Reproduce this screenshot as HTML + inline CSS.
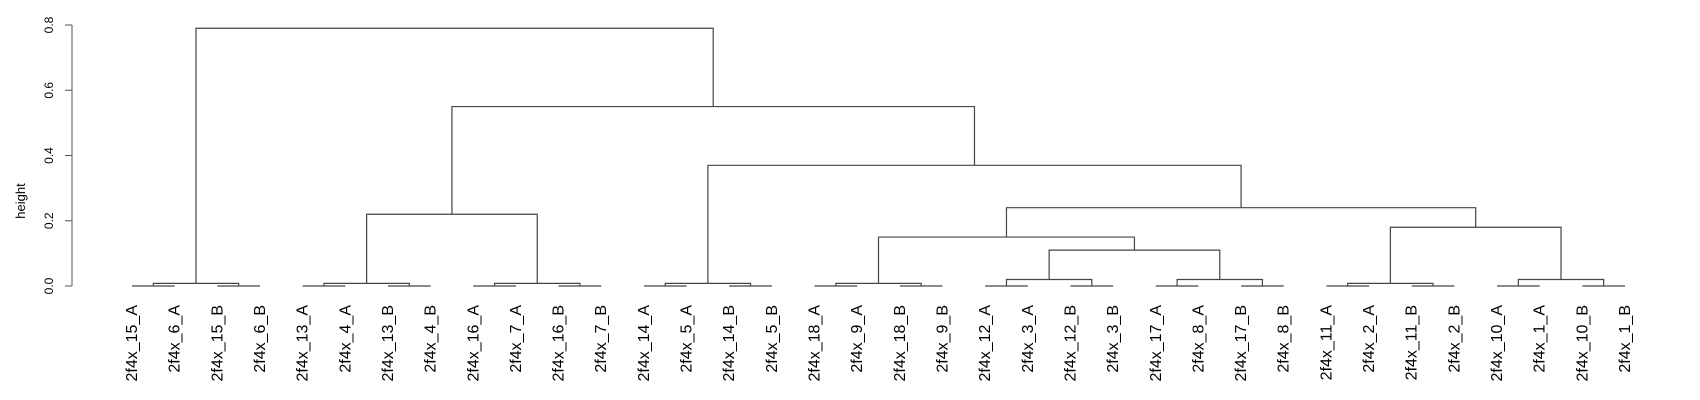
<!DOCTYPE html>
<html><head><meta charset="utf-8"><style>
body{margin:0;background:#fff}
svg{display:block;font-family:"Liberation Sans",Arial,sans-serif}
</style></head><body>
<svg id="chart" width="1700" height="400" viewBox="0 0 1700 400" xmlns="http://www.w3.org/2000/svg">
<g id="axis"></g>
<g id="tree"></g>
<g id="labels"></g>
<text transform="translate(25,201) rotate(-90)" text-anchor="middle" font-size="13">height</text>
</svg>
<script>
const leafLabels=["2f4x_15_A","2f4x_6_A","2f4x_15_B","2f4x_6_B","2f4x_13_A","2f4x_4_A","2f4x_13_B","2f4x_4_B","2f4x_16_A","2f4x_7_A","2f4x_16_B","2f4x_7_B","2f4x_14_A","2f4x_5_A","2f4x_14_B","2f4x_5_B","2f4x_18_A","2f4x_9_A","2f4x_18_B","2f4x_9_B","2f4x_12_A","2f4x_3_A","2f4x_12_B","2f4x_3_B","2f4x_17_A","2f4x_8_A","2f4x_17_B","2f4x_8_B","2f4x_11_A","2f4x_2_A","2f4x_11_B","2f4x_2_B","2f4x_10_A","2f4x_1_A","2f4x_10_B","2f4x_1_B"];
// merges (R hclust style): negative = leaf (1-based), positive = earlier merge (1-based)
const mergeLeft =[-1,-3,1,-5,-7,4,-9,-11,7,-13,-15,10,-17,-19,13,-21,-23,16,-25,-27,19,-29,-31,22,-33,-35,25,18,15,24,29,12,6,33,3];
const mergeRight=[-2,-4,2,-6,-8,5,-10,-12,8,-14,-16,11,-18,-20,14,-22,-24,17,-26,-28,20,-30,-32,23,-34,-36,26,21,28,27,30,31,9,32,34];
const mergeHeight=[0,0,0.008,0,0,0.008,0,0,0.008,0,0,0.008,0,0,0.008,0,0,0.02,0,0,0.02,0,0,0.008,0,0,0.02,0.11,0.15,0.18,0.24,0.37,0.22,0.55,0.79];
const yTicks=[0,0.2,0.4,0.6,0.8];

const NS="http://www.w3.org/2000/svg";
const x0=132, dx=(1625-132)/35;
const yZero=286, yPer=(286-25)/0.8;
const X=i=>x0+i*dx;
const Y=v=>yZero-v*yPer;
function mk(tag,attrs,parent){const e=document.createElementNS(NS,tag);for(const k in attrs)e.setAttribute(k,attrs[k]);parent.appendChild(e);return e;}

const axis=document.getElementById('axis');
mk('line',{x1:72,x2:72,y1:Y(0),y2:Y(0.8),stroke:'#555','stroke-width':1},axis);
yTicks.forEach(t=>{
  const l=mk('line',{x1:65,x2:72,y1:Y(t),y2:Y(t),stroke:'#555'},axis);
  
  
  const tx=mk('text',{transform:`translate(53,${Y(t)}) rotate(-90)`,'text-anchor':'middle','font-size':'12'},axis);
  
  
  tx.textContent=t.toFixed(1);
});

const tree=document.getElementById('tree');
const nx=[],nh=[];
function pos(r){return r<0?[X(-r-1),0]:[nx[r-1],nh[r-1]];}
for(let i=0;i<mergeHeight.length;i++){
  const [xa,ha]=pos(mergeLeft[i]),[xb,hb]=pos(mergeRight[i]),h=mergeHeight[i];
  const p=mk('path',{d:`M${xa},${Y(ha)}V${Y(h)}H${xb}V${Y(hb)}`,fill:'none',stroke:'#444','stroke-width':1.2},tree);
  
  
  nx.push((xa+xb)/2);nh.push(h);
}

const labels=document.getElementById('labels');
leafLabels.forEach((s,i)=>{
  const t=mk('text',{transform:`translate(${X(i)+5},305) rotate(-90)`,'text-anchor':'end','font-size':'16'},labels);
  
  
  t.textContent=s;
});
</script>
</body></html>
